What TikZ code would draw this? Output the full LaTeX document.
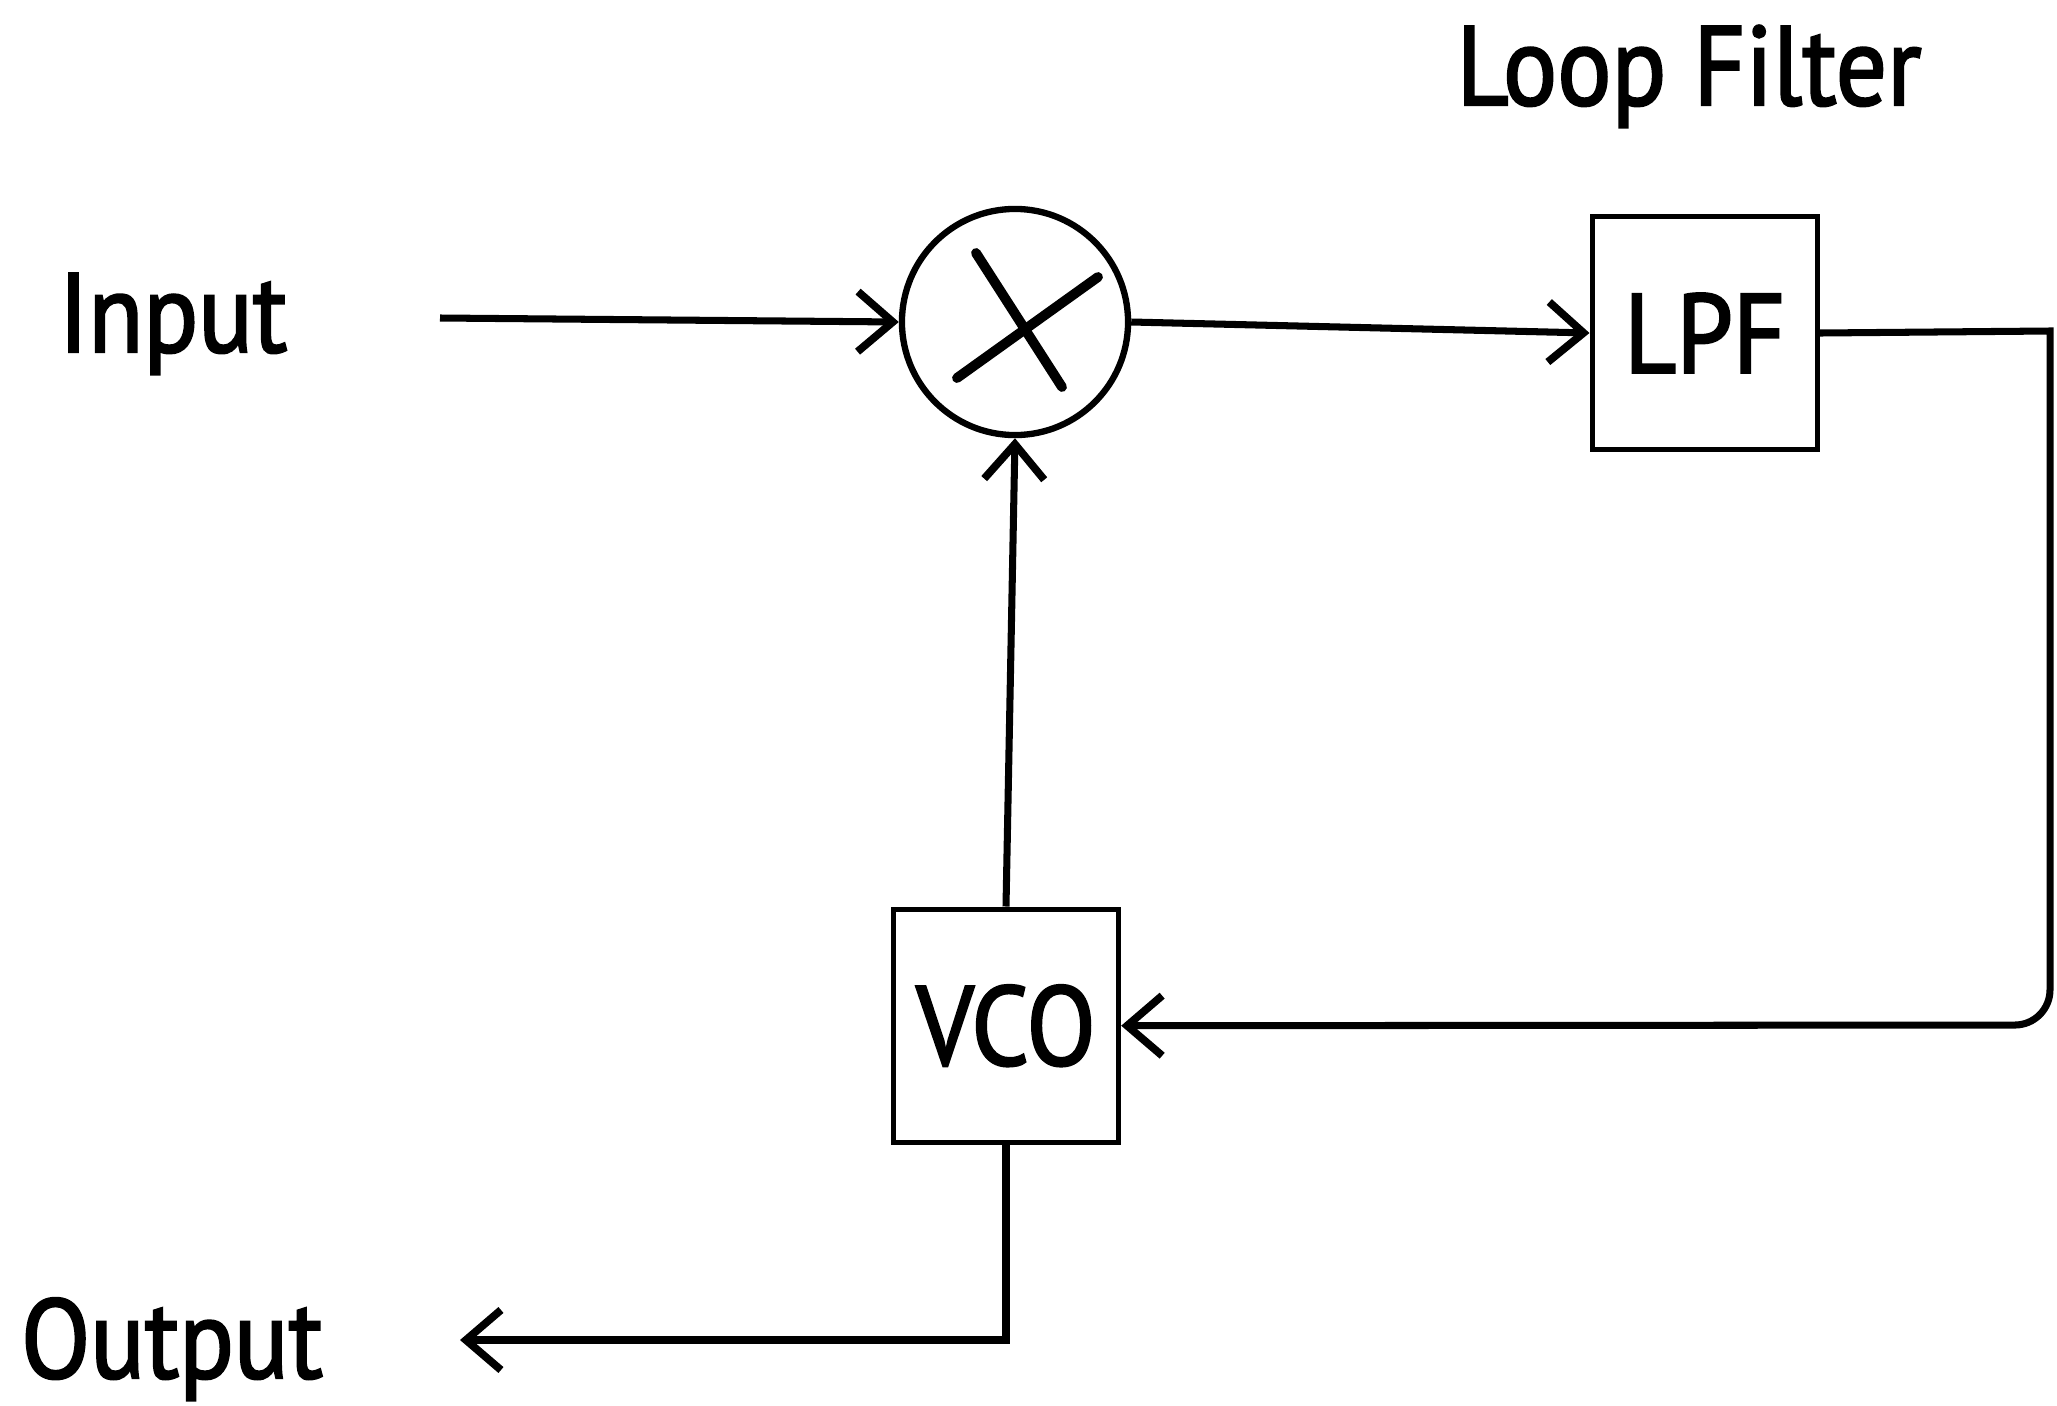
\documentclass[tikz,border=0pt]{standalone}
\usepackage{fontspec}
\setmainfont{PT Sans}[FakeStretch=0.9, FakeBold=2]
\usepackage{tikz}
\usetikzlibrary{arrows.meta,positioning}

\begin{document}
\begin{tikzpicture}[
    x=0.01cm, y=-0.01cm,
    font=\fontsize{32}{38}\selectfont,
    node distance=4.6cm,
    box/.style={rectangle, draw, line width=1.5pt, inner sep=0pt, minimum width=2.25cm, minimum height=2.33cm},
    mixer/.style={circle, draw, line width=1.8pt, inner sep=0pt, minimum size=2.26cm},
    arrow/.style={->, line width=2pt, >={Straight Barb[length=0.35cm, width=0.6cm, line width=2.2pt]}}
]
    \useasboundingbox (0,0) rectangle (2057,1406);

    \node[mixer] (mix) at (1015,322) {};
    \node[box, right=4.58cm of mix, yshift=-0.11cm] (lpf) {LPF};
    \node[box, below=4.68cm of mix, xshift=-0.09cm] (vco) {VCO};

    % cross in the mixer
    \draw[line width=2.8pt, line cap=round] ([shift={(-39,-69)}]mix.center) -- ([shift={(47,65)}]mix.center);
    \draw[line width=2.8pt, line cap=round] ([shift={(-58,56)}]mix.center) -- ([shift={(83,-45)}]mix.center);

    \node[anchor=base] (input) at (173,352) {Input};
    \node[anchor=base] (output) at (172,1378) {Output};
    \node[anchor=base] (loopf) at (1689,105) {Loop Filter};

    \coordinate (src) at (440,318);
    \coordinate (dst) at (460,1340);
    \coordinate (c1) at (2050,331);
    \coordinate (c2) at (2050,1025);

    \draw[arrow] (src) -- (mix.west);
    \draw[arrow] (mix.east) -- (lpf.west);
    \draw[arrow] (lpf.east) -- (c1) [rounded corners=10] -- (c2) -- (vco.east);
    \draw[arrow] (vco.north) -- (mix.south);
    \draw[arrow] (vco.south) |- (dst);
\end{tikzpicture}
\end{document}
